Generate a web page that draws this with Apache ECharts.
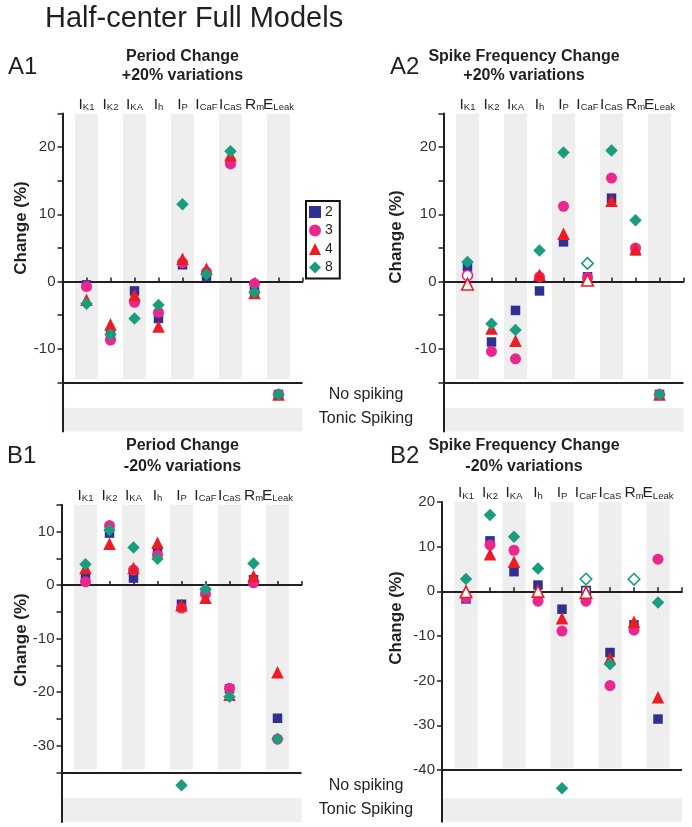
<!DOCTYPE html>
<html><head><meta charset="utf-8">
<script src="https://cdn.jsdelivr.net/npm/echarts@6/dist/echarts.min.js"></script>
<style>html,body{margin:0;padding:0;background:#fff}#c{width:692px;height:827px}</style>
</head><body><div id="c"></div>
<script>
// ---------- data ----------
const legendNames = ['2', '3', '4', '8'];
const catMain = ['I', 'I', 'I', 'I', 'I', 'I', 'I', 'R', 'E'];
const catSub = ['K1', 'K2', 'KA', 'h', 'P', 'CaF', 'CaS', 'm', 'Leak'];

// Values in % change; 'NS' = no spiking; null = not drawn as filled
// A1: Period change, +20%
const A1_sq = [-0.5, -8.0, -1.4, -5.5, 2.5, 0.8, 17.7, -1.4, 'NS'];
const A1_ci = [-0.75, -8.7, -3.1, -4.6, 2.8, 1.4, 17.5, -0.3, 'NS'];
const A1_tr = [-2.7, -6.4, -2.0, -6.7, 3.4, 1.9, 18.8, -1.7, 'NS'];
const A1_di = [-3.3, -7.9, -5.5, -3.5, 11.5, 1.1, 19.4, -1.6, 'NS'];
// A2: Spike frequency change, +20%
const A2_sq = [2.2, -9.0, -4.3, -1.4, 5.9, 0.7, 12.4, 4.6, 'NS'];
const A2_ci = [null, -10.4, -11.5, 0.7, 11.2, 0.6, 15.4, 5.0, 'NS'];
const A2_tr = [null, -7.0, -8.8, 1.0, 7.1, null, 12.0, 4.8, 'NS'];
const A2_di = [2.9, -6.3, -7.2, 4.6, 19.2, null, 19.5, 9.1, 'NS'];
const A2_ci_open = [0.9, null, null, null, null, null, null, null, null];
const A2_tr_open = [-0.4, null, null, null, null, 0.2, null, null, null];
const A2_di_open = [null, null, null, null, null, 2.7, null, null, null];
// B1: Period change, -20%
const B1_sq = [1.3, 9.7, 1.3, 6.5, -3.6, -1.3, -19.4, 1.0, -24.9];
const B1_ci = [0.6, 11.1, 2.8, 5.6, -4.3, -1.7, -19.3, 0.4, -28.8];
const B1_tr = [3.2, 7.7, 3.2, 7.9, -3.8, -2.4, -20.5, 1.7, -16.3];
const B1_di = [3.9, 10.3, 7.0, 4.9, 'NS', -0.8, -20.9, 4.0, -28.8];
// B2: Spike frequency change, -20%
const B2_sq = [-1.7, 11.3, 4.4, 1.4, -4.0, null, -13.7, -7.5, -28.6];
const B2_ci = [-1.4, 10.4, 9.2, -2.2, -8.9, -2.2, -21.1, -8.7, 7.2];
const B2_tr = [null, 8.3, 6.6, null, -6.0, null, -15.0, -6.8, -23.7];
const B2_di = [2.75, 17.1, 12.2, 5.1, 'NS', null, -16.3, null, -2.5];
const B2_sq_open = [null, null, null, null, null, 0.1, null, null, null];
const B2_tr_open = [-0.1, null, null, 0.0, null, -0.3, null, null, null];
const B2_di_open = [null, null, null, null, null, 2.75, null, 2.7, null];

// tick values / tick labels
const A_yTicks = [25, 20, 15, 10, 5, 0, -5, -10, -15];
const A_yLabels = [20, 10, 0, -10];
const B1_yTicks = [15, 10, 5, 0, -5, -10, -15, -20, -25, -30, -35];
const B1_yLabels = [10, 0, -10, -20, -30];
const B2_yTicks = [20, 10, 0, -10, -20, -30, -40];
const B2_yLabels = [20, 10, 0, -10, -20, -30, -40];

// ---------- layout / style ----------
const FONT = '"Liberation Sans", Arial, Helvetica, sans-serif';
const INK = '#231f20';
const BAND = '#eeeeee';
const COLORS = { sq: '#2e3192', ci: '#ec268f', tr: '#ed1c24', di: '#1a9c7e' };
const SYMS = { sq: ['rect', 9.5], ci: ['circle', 11], tr: ['triangle', 12.5], di: ['diamond', 12.5] };
const NAMES = { sq: '2', ci: '3', tr: '4', di: '8' };

const panels = [
  { left: 62.5, top: 113.5, width: 240, height: 317.9, min: -22.3, max: 25, sep: -15, bandEnd: -14.5, ns: -16.8, tonic: -18.8,
    ticks: A_yTicks, labels: A_yLabels, sets: { sq: A1_sq, ci: A1_ci, tr: A1_tr, di: A1_di }, open: {} },
  { left: 443.5, top: 113.5, width: 240, height: 317.9, min: -22.3, max: 25, sep: -15, bandEnd: -14.5, ns: -16.8, tonic: -18.8,
    ticks: A_yTicks, labels: A_yLabels, sets: { sq: A2_sq, ci: A2_ci, tr: A2_tr, di: A2_di },
    open: { ci: A2_ci_open, tr: A2_tr_open, di: A2_di_open } },
  { left: 61.5, top: 504.75, width: 240, height: 317.3, min: -44.3, max: 15, sep: -35, bandEnd: -34.5, ns: -37.4, tonic: -39.8,
    ticks: B1_yTicks, labels: B1_yLabels, sets: { sq: B1_sq, ci: B1_ci, tr: B1_tr, di: B1_di }, open: {} },
  { left: 442, top: 502, width: 240, height: 319.8, min: -51.6, max: 20, sep: -40, bandEnd: -39.5, ns: -44.1, tonic: -46.3,
    ticks: B2_yTicks, labels: B2_yLabels, sets: { sq: B2_sq, ci: B2_ci, tr: B2_tr, di: B2_di },
    open: { sq: B2_sq_open, tr: B2_tr_open, di: B2_di_open } }
];

const grid = [], xAxis = [], yAxis = [], series = [];
panels.forEach((p, g) => {
  grid.push({ left: p.left, top: p.top, width: p.width, height: p.height });
  xAxis.push({
    gridIndex: g, type: 'value', min: -1, max: 9, interval: 1, z: 1,
    axisLine: { onZero: true, lineStyle: { color: INK, width: 2 } },
    axisTick: { inside: true, length: 4, lineStyle: { color: INK, width: 1.5 } },
    axisLabel: { show: false }, splitLine: { show: false }
  });
  xAxis.push({
    gridIndex: g, type: 'value', min: -1, max: 9, interval: 1, position: 'top',
    axisLine: { show: false, onZero: false }, axisTick: { show: false }, splitLine: { show: false },
    axisLabel: {
      margin: 1, showMinLabel: true, showMaxLabel: true,
      formatter: v => { const i = Math.round(v); return (i >= 0 && i < 9) ? '{m|' + catMain[i] + '}{s|' + catSub[i] + '}' : ''; },
      rich: {
        m: { fontFamily: FONT, fontSize: 15.5, color: INK, lineHeight: 16, verticalAlign: 'bottom' },
        s: { fontFamily: FONT, fontSize: 9.5, color: INK, lineHeight: 8, verticalAlign: 'bottom' }
      }
    }
  });
  yAxis.push({
    gridIndex: g, type: 'value', min: p.min, max: p.max, z: 1,
    axisLine: { show: true, onZero: false, lineStyle: { color: INK, width: 2 } },
    axisTick: { show: true, customValues: p.ticks, length: 5, lineStyle: { color: INK, width: 1.5 } },
    axisLabel: { customValues: p.labels, fontFamily: FONT, fontSize: 15, color: '#333', margin: 7 },
    splitLine: { show: false }
  });
  const bands = [];
  for (let i = 0; i < 9; i += 2) bands.push([{ coord: [i - 0.48, p.max] }, { coord: [i + 0.48, p.bandEnd] }]);
  bands.push([{ coord: [-1, p.tonic] }, { coord: [9, p.min] }]);
  series.push({
    type: 'scatter', xAxisIndex: 2 * g, yAxisIndex: g, data: [], z: 0, silent: true,
    markArea: { silent: true, itemStyle: { color: BAND }, label: { show: false }, data: bands },
    markLine: { silent: true, symbol: 'none', label: { show: false },
      lineStyle: { color: INK, width: 2, type: 'solid' },
      data: [[{ coord: [-1, p.sep] }, { coord: [9, p.sep] }]] }
  });
  const toPts = arr => arr.map((v, i) => v === null ? null : [i, v === 'NS' ? p.ns : v]).filter(d => d);
  ['sq', 'ci', 'tr', 'di'].forEach((k, j) => {
    series.push({
      name: NAMES[k], type: 'scatter', xAxisIndex: 2 * g, yAxisIndex: g, z: 3 + j,
      symbol: SYMS[k][0], symbolSize: SYMS[k][1], itemStyle: { color: COLORS[k], opacity: 1 },
      data: toPts(p.sets[k]), silent: true
    });
  });
  ['sq', 'ci', 'tr', 'di'].forEach((k, j) => {
    if (!p.open[k]) return;
    series.push({
      name: NAMES[k] + ' open', type: 'scatter', xAxisIndex: 2 * g, yAxisIndex: g, z: 8 + j,
      symbol: SYMS[k][0], symbolSize: SYMS[k][1] - 1,
      itemStyle: { color: '#ffffff', borderColor: COLORS[k], borderWidth: 1.6, opacity: 1 },
      data: toPts(p.open[k]), silent: true
    });
  });
});

const T = (text, x, y, size, opts) => Object.assign({
  type: 'text', x: x, y: y, silent: true,
  style: Object.assign({ text: text, fontFamily: FONT, fontSize: size, fill: INK, textAlign: 'left', textVerticalAlign: 'middle' }, (opts && opts.style) || {})
}, opts && opts.rotation ? { rotation: opts.rotation } : {});

const graphic = [
  T('Half-center Full Models', 45, 19, 29),
  T('A1', 8, 67, 24), T('A2', 390, 67, 24), T('B1', 7, 456, 24), T('B2', 390, 456, 24),
  T('Period Change', 182.5, 57, 16, { style: { fontWeight: 'bold', textAlign: 'center' } }),
  T('+20% variations', 182.5, 76, 16, { style: { fontWeight: 'bold', textAlign: 'center' } }),
  T('Spike Frequency Change', 524, 57, 16, { style: { fontWeight: 'bold', textAlign: 'center' } }),
  T('+20% variations', 524, 76, 16, { style: { fontWeight: 'bold', textAlign: 'center' } }),
  T('Period Change', 182.5, 446, 16, { style: { fontWeight: 'bold', textAlign: 'center' } }),
  T('-20% variations', 182.5, 467, 16, { style: { fontWeight: 'bold', textAlign: 'center' } }),
  T('Spike Frequency Change', 524, 446, 16, { style: { fontWeight: 'bold', textAlign: 'center' } }),
  T('-20% variations', 524, 467, 16, { style: { fontWeight: 'bold', textAlign: 'center' } }),
  T('Change (%)', 21, 228, 17, { rotation: Math.PI / 2, style: { fontWeight: 'bold', textAlign: 'center' } }),
  T('Change (%)', 396, 237, 17, { rotation: Math.PI / 2, style: { fontWeight: 'bold', textAlign: 'center' } }),
  T('Change (%)', 21, 640, 17, { rotation: Math.PI / 2, style: { fontWeight: 'bold', textAlign: 'center' } }),
  T('Change (%)', 396, 618, 17, { rotation: Math.PI / 2, style: { fontWeight: 'bold', textAlign: 'center' } }),
  T('No spiking', 366, 395, 16, { style: { textAlign: 'center' } }),
  T('Tonic Spiking', 366, 419, 16, { style: { textAlign: 'center' } }),
  T('No spiking', 366, 786, 16, { style: { textAlign: 'center' } }),
  T('Tonic Spiking', 366, 810, 16, { style: { textAlign: 'center' } })
];

const chart = echarts.init(document.getElementById('c'), null, { renderer: 'canvas' });
chart.setOption({
  backgroundColor: '#ffffff',
  animation: false,
  textStyle: { fontFamily: FONT },
  grid: grid, xAxis: xAxis, yAxis: yAxis, series: series, graphic: graphic,
  legend: {
    data: legendNames, orient: 'vertical', left: 306, top: 201,
    padding: [4, 7, 4, 3], itemGap: 4.5, itemWidth: 12, itemHeight: 12,
    borderColor: '#111', borderWidth: 2, backgroundColor: '#fff',
    selectedMode: false,
    textStyle: { fontFamily: FONT, fontSize: 14, color: INK, padding: [0, 0, 0, -1] }
  }
});
</script></body></html>
